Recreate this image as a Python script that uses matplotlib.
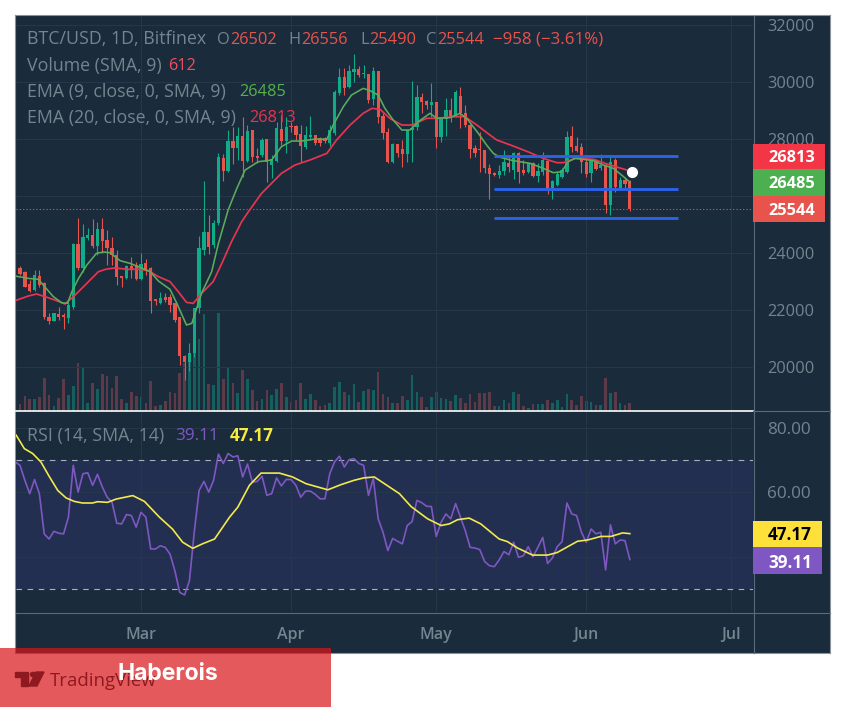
import matplotlib
matplotlib.use('Agg')
import matplotlib.pyplot as plt
from matplotlib.patches import Rectangle, Polygon, Circle

# days counted from 1 Mar, first candle is 4 Feb
first_day = -25

open_ = [23460,23345,22910,22700,23205,22935,21765,21625,21860,21820,
         21710,22115,24315,23460,24515,24630,24245,24840,24455,24165,
         23930,23190,23110,23545,23580,
         23075,23640,23460,22370,22255,22465,22445,22230,21765,20385,
         20185,20500,22055,24105,24725,24280,25065,27320,26880,27930,
         27700,28115,27225,28315,27415,27435,28000,27085,27227,28350,
         27940,
         28455,28455,28175,27730,28058,28140,28020,28020,27847,28198,
         29600,30164,29836,30363,30456,30281,30281,29391,30398,28806,
         28256,27203,27823,27636,27473,28315,28409,29461,29333,29192,
         29286,28058,28690,29017,28841,29508,28900,28490,27671,27636,
         27613,26970,26794,26735,26888,27168,26912,27497,26912,26854,
         27146,26701,26854,27240,26268,26386,26678,26853,28105,27755,27708,
         27205,26795,27240,27000,27087,25683,27263,26268,26561,26502]
high = [23555,23380,23050,23420,23420,22990,21905,21900,22090,21905,
        22290,24360,25215,25020,24865,25195,25100,25215,24810,24570,
        24105,23190,23580,23870,23695,
        23990,23780,23520,22370,22640,22585,22560,22230,21765,20420,
        20830,22080,24595,26510,25335,25160,27500,27460,28315,28430,
        28430,28785,28490,28315,27670,28045,28000,27435,28600,28840,
        28783,
        28600,28490,28490,28455,28818,28140,28058,28058,28490,29720,
        30480,30480,30597,30983,30573,30597,30281,30515,30398,28900,
        28373,27847,27823,27964,28338,30035,29894,29600,29368,29976,
        29310,28783,29427,29427,29719,29836,29192,28490,27788,28256,
        27613,27122,26852,27087,27613,27379,27555,27532,27263,27146,
        27204,27146,27532,27240,26561,26853,26970,28293,28456,28059,27848,
        27287,27287,27287,27470,27146,27357,27322,26678,26678,26556]
low = [23230,22795,22640,22650,22800,21700,21510,21600,21650,21320,
       21555,22050,23400,23345,24455,24185,23930,23990,23580,23580,
       22875,22795,23075,23110,23050,
       23050,23225,21880,22175,22210,22290,21940,21590,20070,19540,
       19870,20360,21880,23930,23965,24165,25000,26525,26850,27110,
       27260,26676,27200,27200,27145,27380,26500,26620,27200,27790,
       27500,
       28250,27964,27200,27650,27960,27790,27754,27850,27754,28150,
       29540,29540,29780,30011,30187,30128,29274,29193,28572,27987,
       27145,27145,27355,27005,27203,27203,28315,28900,29040,28783,
       27671,27905,28104,28607,28783,28397,28432,27320,27355,26852,
       26794,25881,26700,26618,26735,26852,26585,26444,26737,26795,
       26678,26503,26737,26070,25882,26351,26620,26795,27532,27555,26818,
       26678,26503,26912,26900,25391,25332,26150,26210,26268,25490]
close = [23260,22820,22680,23230,22875,21765,21625,21880,21740,21740,
         22175,24315,23460,24550,24630,24245,24830,24430,24165,23930,
         23170,23110,23555,23425,23075,
         23615,23380,22315,22325,22430,22350,22175,21650,20385,20160,
         20500,22055,24165,24725,24220,25065,27380,26880,27930,27695,
         28115,27225,28280,27380,27345,27960,27205,27295,28373,27940,
         28432,
         28408,28140,27753,28140,28140,27847,27847,27940,28315,29660,
         30187,29780,30400,30456,30246,30304,29368,30398,28783,28198,
         27203,27823,27496,27473,28315,28397,29485,29310,29192,29310,
         28058,28690,29017,28818,29660,28900,28490,27636,27496,27613,
         26970,26771,26735,26888,27203,27028,27497,26854,26795,27146,
         26701,26889,27263,26268,26538,26772,26912,28082,27708,27591,27205,
         26772,27240,26935,27100,25683,27205,26327,26561,26421,25544]
volume = [532,1140,912,912,1064,2508,1216,380,988,2432,
          1216,1900,3648,3268,608,2128,1672,2812,2660,1748,
          2660,912,608,1444,1140,
          1064,608,2280,380,456,760,1444,1368,2888,3648,
          4332,4940,5472,7372,2052,1976,7448,2432,3344,2128,
          1368,3116,2432,1596,760,912,1596,1216,1672,2128,
          1064,
          684,836,2128,912,1292,836,380,456,608,1824,
          2204,1444,1216,2052,684,1520,1672,1596,2964,1292,
          1064,608,608,1140,836,2736,1444,1064,304,1064,
          1444,988,912,760,1216,988,608,1292,684,1368,
          1368,1444,380,380,836,608,1444,1292,380,228,
          532,532,532,836,608,836,304,1292,836,456,
          1140,760,684,456,456,2508,1368,1444,608,456,612]

ema9_days = [-26,-23.3,-21.2,-19.8,-18.1,-16.4,-15.2,-14.2,-12.9,-11.2,-9.2,-7.8,-6.4,-5.4,-4.3,-2.3,-0.2,
             1.9,3.6,6,7.4,9.4,10.5,12.5,14.6,16,18,19.8,21.5,24.2,27,29,31.1,33.2,36,38.4,39.7,41.8,43.5,
             45.9,47.3,49,50.4,52.1,53.9,55.6,57.3,59.7,61.1,63.8,65.9,67.3,69.7,71.4,72.8,74.2,76.9,80.4,
             83.1,85.2,86.9,88.3,89.7,91.4,93.5,95.5,97.6,99.7,101]
ema9 = [23192,23110,23075,22795,22467,22256,22233,22678,23110,23578,23988,24035,24011,23871,23731,23637,23497,
        23345,23017,22724,22233,21473,21531,22584,23344,24339,25509,26267,26910,27203,27262,27730,27929,27929,
        28000,27987,28490,29134,29543,29777,29696,29543,29075,28666,28315,28315,28608,28900,28725,28748,28900,
        28725,28198,27790,27497,27357,27240,27146,26970,26818,26853,27205,27322,27286,27240,27088,26970,26678,26485]
ema20_days = [-26,-23.3,-21.6,-19.8,-17.8,-15.7,-13.6,-11.2,-8.8,-7.1,-5.4,-2.6,-0.2,1.5,3.6,6,7.7,9.4,10.8,
              12.5,14.9,16.7,18.7,20.8,22.2,24.9,29,31.8,34.9,38.4,40.4,43.2,45.9,47.7,49.4,51.4,53.9,56,59,
              61.1,64.5,66.9,69.4,72.1,73.5,76.9,80.4,83.1,85.9,87.3,89.7,93.5,96.9,100.4,101]
ema20 = [22327,22490,22561,22467,22350,22210,22526,22935,23345,23438,23473,23426,23426,23380,23169,22994,22642,
         22268,22233,22584,22994,23637,24398,25100,25451,26091,26793,27086,27262,27496,27964,28490,28900,29075,
         29040,28725,28490,28490,28725,28725,28783,28783,28490,28139,27965,27754,27520,27322,27170,27170,27322,
         27286,27088,26912,26813]

rsi = [69.5,68.4,63.75,59.6,64.0,59.6,47.1,45.5,47.9,47.3,47.1,52.3,68.4,60.1,65.8,66.1,62.2,65.6,61.7,58.5,
       57.0,50.4,50.2,53.1,52.8,49.2,53.8,52.3,42.4,42.4,43.4,42.9,40.8,35.6,28.9,28.1,32.5,47.6,60.6,63.4,
       60.1,63.8,71.9,69.0,72.1,71.0,71.4,64.8,68.8,63.2,63.4,65.0,59.1,59.6,64.5,62.0,64.0,64.0,62.2,58.5,
       60.4,60.4,59.4,58.0,58.0,65.8,69.5,71.25,67.9,70.2,70.5,69.0,68.4,59.1,64.3,51.8,47.6,41.9,45.7,44.8,
       44.0,49.7,50.9,57.5,56.8,55.7,55.6,46.3,50.7,53.3,51.8,56.5,52.3,48.1,42.9,42.7,42.2,38.5,37.2,36.9,
       39.0,41.6,40.6,44.5,39.8,40.3,43.1,40.0,42.9,46.0,37.9,39.6,43.1,44.7,56.7,53.3,52.8,47.6,44.5,48.6,
       47.1,47.6,35.9,49.9,44.0,45.2,45.0,39.11]
rsi_first_day = -26
rsi_ma_days = [-25.8,-24.1,-22.4,-20.7,-18.9,-17.2,-15.5,-13.8,-12.1,-10,-9,-6.9,-5.2,-1.7,0.7,3.8,6.5,8.6,10.7,
               12.7,15.2,18.3,20,22.4,24.8,28.6,31.3,34.1,38.6,41.3,44,46,48.2,50.3,53.4,55.8,59.2,62,63.7,65.4,
               67.8,70.2,74,75.7,77.8,80.9,84,86,90.2,92.3,95,97.1,99.5,101]
rsi_ma = [77.8,73.6,72.1,69.5,64.8,60.6,58.3,57.2,56.7,56.7,57.1,56.9,57.9,59.0,57.2,52.3,48.6,44.5,42.6,
          44.0,45.5,52.3,55.4,62.2,66.0,66.0,64.8,62.7,60.8,62.4,63.75,64.5,64.8,62.7,59.6,55.6,51.8,49.7,50.2,
          51.5,52.0,50.2,45.5,44.7,42.7,40.5,40.5,41.3,44.8,45.2,46.3,46.3,47.4,47.17]

channel_levels = [27400, 26245, 25230]
channel_days = [73, 111]
dot_day, dot_price = 101.4, 26840

price_ticks = [20000, 22000, 24000, 26000, 28000, 30000, 32000]
price_labels = ['20000', '22000', '24000', '', '28000', '30000', '32000']
month_days = [0, 31, 61, 92, 122]
month_labels = ['Mar', 'Apr', 'May', 'Jun', 'Jul']

W, H = 846, 707
BG = '#1a2b3c'
GRID = '#25384a'
TXT = '#74858f'
UP = '#10ab87'
DOWN = '#e8534c'
FONT = ['Open Sans', 'DejaVu Sans']

plt.rcParams['font.family'] = FONT

fig = plt.figure(figsize=(W / 100, H / 100), dpi=100, facecolor='white')


def rect(x0, y0, x1, y1):
    return [x0 / W, 1 - y1 / H, (x1 - x0) / W, (y1 - y0) / H]


def box(x0, y0, x1, y1, color, alpha=1, zorder=3):
    fig.add_artist(Rectangle((x0 / W, 1 - y1 / H), (x1 - x0) / W, (y1 - y0) / H, facecolor=color,
                             edgecolor='none', alpha=alpha, zorder=zorder, transform=fig.transFigure))


def label(x, y, s, color, size=11.8, ha='left', **kw):
    # +1.5 because va=center sits a little high for this font
    fig.text(x / W, 1 - (y + 1.5) / H, s, color=color, fontsize=size, ha=ha, va='center', zorder=6, **kw)


# dark panel behind everything
bg = fig.add_axes(rect(15, 15, 830, 653), facecolor=BG, zorder=-1)
bg.set_xticks([])
bg.set_yticks([])
for s in bg.spines.values():
    s.set_color('#8a939b')
    s.set_linewidth(0.8)

xlim = (-25.83, 126.45)
days = [first_day + i for i in range(len(close))]

ax = fig.add_axes(rect(16, 16, 753, 411), facecolor=BG)
ax.set_xlim(*xlim)
ax.set_ylim(18456, 32316)

# volume overlay
vax = ax.twinx()
vax.set_ylim(0, 30020)
vax.axis('off')
vol_colors = ['#14605f' if c >= o else '#5c3a48' for o, c in zip(open_, close)]
vax.bar(days, volume, width=0.55, color=vol_colors, zorder=1)

ax.set_xticks(month_days)
ax.set_xticklabels([])
ax.set_yticks(price_ticks)
ax.set_yticklabels(price_labels, color=TXT, fontsize=11.8)
ax.yaxis.tick_right()
ax.tick_params(length=0)
ax.tick_params(axis='y', pad=10)
ax.grid(color=GRID, linewidth=0.8)
ax.set_axisbelow(True)
for s in ax.spines.values():
    s.set_visible(False)
for s in vax.spines.values():
    s.set_visible(False)

ax.set_zorder(vax.get_zorder() + 1)
ax.patch.set_visible(False)
vax.patch.set_visible(False)

colors = [UP if c >= o else DOWN for o, c in zip(open_, close)]
ax.vlines(days, low, high, colors=colors, linewidth=0.8, zorder=3)
ax.bar(days, [abs(c - o) for o, c in zip(open_, close)], bottom=[min(o, c) for o, c in zip(open_, close)],
       width=0.68, color=colors, zorder=3)

ax.plot(ema20_days, ema20, color='#e8344f', linewidth=1.25, zorder=4)
ax.plot(ema9_days, ema9, color='#5aad5c', linewidth=1.15, zorder=4)
ax.axhline(close[-1], color=DOWN, linestyle=(0, (1, 2)), linewidth=0.8, zorder=2)
for level in channel_levels:
    ax.plot(channel_days, [level, level], color='#2b62e8', linewidth=2.1, solid_capstyle='butt', zorder=5)
ax.plot([dot_day], [dot_price], 'o', color='white', markersize=7, zorder=6)

# rsi pane
rx = fig.add_axes(rect(16, 412, 753, 612), facecolor=BG)
rx.set_xlim(*xlim)
rx.set_ylim(22.8, 85)
rx.set_xticks(month_days)
rx.set_xticklabels(month_labels, color=TXT, fontsize=11.5, fontweight='semibold')
rx.set_yticks([40, 60, 80])
rx.set_yticklabels(['', '60.00', '80.00'], color=TXT, fontsize=12.3)
rx.yaxis.tick_right()
rx.tick_params(length=0)
rx.tick_params(axis='y', pad=10)
rx.tick_params(axis='x', pad=11)
rx.grid(color=GRID, linewidth=0.8)
rx.set_axisbelow(True)
for s in rx.spines.values():
    s.set_visible(False)
rx.axhspan(30, 70, facecolor='#232f50', zorder=0.5)
for level in (30, 70):
    rx.axhline(level, color='#a9b2bc', linestyle=(0, (5, 5)), linewidth=0.8, zorder=2)
rsi_days = [rsi_first_day + i for i in range(len(rsi))]
rx.plot(rsi_days, rsi, color='#7e57c2', linewidth=1.2, zorder=3)
rx.plot(rsi_ma_days, rsi_ma, color='#f2e94e', linewidth=1.2, zorder=4)

# pane separators
fig.add_artist(plt.Line2D([16 / W, 753 / W], [1 - 411.5 / H] * 2, color='white', linewidth=1.2, zorder=2))
fig.add_artist(plt.Line2D([753 / W, 830 / W], [1 - 411.5 / H] * 2, color='#5a6a78', linewidth=0.8, zorder=2))
fig.add_artist(plt.Line2D([16 / W, 830 / W], [1 - 612.5 / H] * 2, color='#5a6a78', linewidth=0.8, zorder=2))
fig.add_artist(plt.Line2D([753.5 / W] * 2, [1 - 16 / H, 1 - 653 / H], color='#5a6a78', linewidth=0.8, zorder=2))

# legend lines
label(27, 38, 'BTC/USD, 1D, Bitfinex', TXT, size=12.8)
for x, s, col in [(217, 'O', TXT), (230, '26502', DOWN), (288, 'H', TXT), (301, '26556', DOWN),
                  (360, 'L', TXT), (369, '25490', DOWN), (426, 'C', TXT), (437, '25544', DOWN),
                  (493, '\u2212958 (\u22123.61%)', DOWN)]:
    label(x, 38, s, col, size=12.2 if s[0] == '\u2212' else 11.8)
label(27, 64, 'Volume (SMA, 9)', TXT, size=12.8)
label(168, 64, '612', '#ef4f60')
label(27, 90, 'EMA (9, close, 0, SMA, 9)', TXT, size=12.8)
label(239, 90, '26485', '#55b04f')
label(27, 116, 'EMA (20, close, 0, SMA, 9)', TXT, size=12.8)
label(249, 116, '26813', '#e8344f')
label(27, 435, 'RSI (14, SMA, 14)', TXT, size=12.8)
label(175, 435, '39.11', '#7e57c2', size=12.3)
label(230, 435, '47.17', '#f7ea3c', size=12.3, fontweight='bold')

# last value boxes
box(753, 144, 825, 169, '#f23645')
box(753, 169, 825, 196, '#4caf50')
box(753, 196, 825, 222.5, DOWN)
label(792, 157, '26813', 'white', ha='center', fontweight='bold')
label(792, 183, '26485', 'white', ha='center', fontweight='bold')
label(792, 210, '25544', 'white', ha='center', fontweight='bold')
box(753, 521, 822, 547, '#fde13a')
box(753, 547, 822, 574, '#7e57c2')
label(790, 534, '47.17', 'black', size=12.3, ha='center', fontweight='bold')
label(790, 561, '39.11', 'white', size=12.3, ha='center', fontweight='bold')

# bottom banner and watermark
box(0, 648, 331, 707, '#da1519', alpha=0.71, zorder=4)
logo = '#8e1a20'
fig.add_artist(Polygon([(15 / W, 1 - 672 / H), (28 / W, 1 - 672 / H), (28 / W, 1 - 686 / H), (21 / W, 1 - 686 / H),
                        (21 / W, 1 - 677 / H), (15 / W, 1 - 677 / H)], color=logo, zorder=5, transform=fig.transFigure))
fig.add_artist(Polygon([(36 / W, 1 - 672 / H), (44 / W, 1 - 672 / H), (37 / W, 1 - 686 / H), (29 / W, 1 - 686 / H)],
                       color=logo, zorder=5, transform=fig.transFigure))
fig.add_artist(Circle((33 / W, 1 - 674.5 / H), 2.5 / W, color=logo, zorder=5, transform=fig.transFigure))
label(50, 680, 'TradingView', logo, size=13.4)
label(117, 672, 'Haberois', 'white', size=16.5, fontweight='bold', family=['Inter', 'DejaVu Sans'])

fig.savefig('out.png', dpi=100)
